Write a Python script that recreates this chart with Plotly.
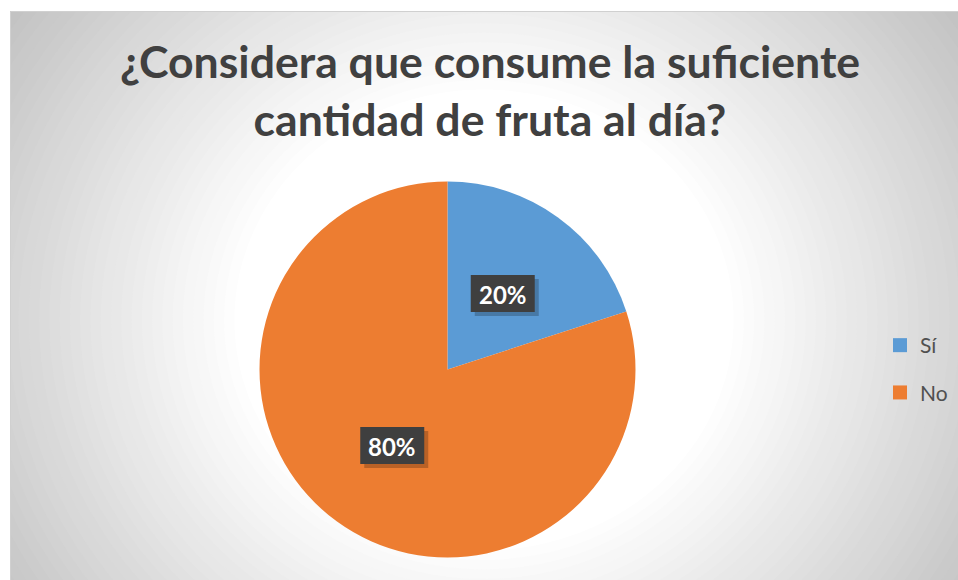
import math
import plotly.graph_objects as go

# Survey answers
labels = ["Sí", "No"]
shares = [20, 80]
colors = ["#5B9BD5", "#ED7D31"]
title_text = "¿Considera que consume la suficiente<br>cantidad de fruta al día?"

W, H = 958, 580
FONT = "Lato"


def px_x(x):
    return x / W


def px_y(y):
    return 1 - y / H


# Chart frame (pixels)
box_l, box_t, box_r, box_b = 10, 11, W, H

shapes = []
# Radial grey-to-white background built from nested ellipses
gcx, gcy, ga, gb = 484, 320, 520, 480
d0, k = 0.48, 95.0
steps = 44
d_max = 1.35
for i in range(steps + 1):
    d = d_max - (d_max - d0) * i / steps
    g = int(round(255 - k * max(0.0, d - d0)))
    g = max(0, min(255, g))
    shapes.append(dict(
        type="circle", xref="paper", yref="paper", layer="below",
        x0=px_x(gcx - ga * d), x1=px_x(gcx + ga * d),
        y0=px_y(gcy + gb * d), y1=px_y(gcy - gb * d),
        fillcolor=f"rgb({g},{g},{g})", line=dict(width=0),
    ))
# White margin outside the frame
shapes.append(dict(type="rect", xref="paper", yref="paper", layer="below",
                   x0=-0.1, x1=px_x(box_l), y0=-0.1, y1=1.1,
                   fillcolor="white", line=dict(width=0)))
shapes.append(dict(type="rect", xref="paper", yref="paper", layer="below",
                   x0=-0.1, x1=1.1, y0=px_y(box_t), y1=1.1,
                   fillcolor="white", line=dict(width=0)))
# Frame outline
shapes.append(dict(type="rect", xref="paper", yref="paper", layer="below",
                   x0=px_x(box_l + 0.5), x1=px_x(box_r + 2),
                   y0=px_y(box_b + 2), y1=px_y(box_t + 0.5),
                   fillcolor="rgba(0,0,0,0)", line=dict(width=1, color="#d0d0d0")))

# Pie placement
pcx, pcy, pr = 447.5, 369.5, 188
pie_domain = dict(x=[px_x(pcx - pr), px_x(pcx + pr)],
                  y=[px_y(pcy + pr), px_y(pcy - pr)])

fig = go.Figure()
fig.add_trace(go.Pie(
    labels=labels, values=shares, sort=False, direction="clockwise",
    rotation=0, marker=dict(colors=colors, line=dict(width=0)),
    textinfo="none", showlegend=False, hole=0, domain=pie_domain,
))

# Legend entries
for lab, col in zip(labels, colors):
    fig.add_trace(go.Scatter(
        x=[None], y=[None], mode="markers", name=lab, legendgroup=lab,
        marker=dict(symbol="square", size=14, color=col),
    ))

# Percentage labels placed at half radius along each slice's mid angle,
# each on a dark tag with a soft drop shadow
annotations = []
tag_w, tag_h = 64, 37
total = sum(shares)
cum = 0
for v in shares:
    mid = (cum + v / 2) / total * 2 * math.pi
    cum += v
    lx = pcx + 0.5 * pr * math.sin(mid)
    ly = pcy - 0.5 * pr * math.cos(mid)
    for off, fill in ((4, "rgba(0,0,0,0.22)"), (0, "#3f3f3f")):
        shapes.append(dict(
            type="rect", xref="paper", yref="paper", layer="above",
            x0=px_x(lx - tag_w / 2 + off), x1=px_x(lx + tag_w / 2 + off),
            y0=px_y(ly + tag_h / 2 + off), y1=px_y(ly - tag_h / 2 + off),
            fillcolor=fill, line=dict(width=0),
        ))
    annotations.append(dict(
        x=px_x(lx), y=px_y(ly + 1), xref="paper", yref="paper",
        text=f"<b>{round(v / total * 100)}%</b>", showarrow=False,
        font=dict(family=FONT, size=24, color="white"),
        xanchor="center", yanchor="middle",
    ))

fig.update_layout(
    width=W, height=H,
    margin=dict(l=0, r=0, t=0, b=0),
    paper_bgcolor="white", plot_bgcolor="rgba(0,0,0,0)",
    xaxis=dict(visible=False, domain=[0, 1]),
    yaxis=dict(visible=False, domain=[0, 1]),
    title=dict(text=f"<b>{title_text}</b>", x=px_x(490), xanchor="center",
               y=px_y(78), yanchor="middle", yref="container",
               font=dict(family=FONT, size=44.6, color="#404040")),
    legend=dict(x=px_x(880), y=px_y(369), xanchor="left", yanchor="middle",
                font=dict(family=FONT, size=21, color="#505050"),
                bgcolor="rgba(0,0,0,0)", tracegroupgap=17,
                itemclick=False, itemdoubleclick=False),
    shapes=shapes,
    annotations=annotations,
)

fig.write_html("out.html")
